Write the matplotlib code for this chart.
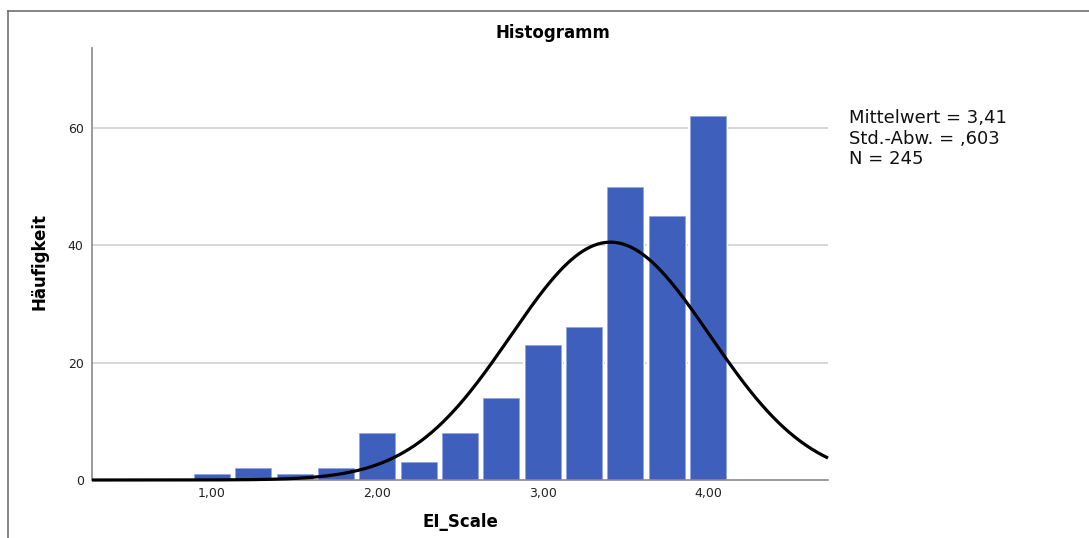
import numpy as np
import matplotlib
matplotlib.use("Agg")
import matplotlib.pyplot as plt
from matplotlib.lines import Line2D

# Data
bin_centers = [1.00, 1.25, 1.50, 1.75, 2.00, 2.25, 2.50, 2.75, 3.00, 3.25, 3.50, 3.75, 4.00]
counts = [1, 2, 1, 2, 8, 3, 8, 14, 23, 26, 50, 45, 62]
mean_val = 3.41
sd_val = 0.603
n_val = 245
bin_width = 0.25
x_ticks = [1.0, 2.0, 3.0, 4.0]
x_tick_labels = ["1,00", "2,00", "3,00", "4,00"]
y_ticks = [0, 20, 40, 60]
y_tick_labels = ["0", "20", "40", "60"]
stats_lines = ["Mittelwert = 3,41", "Std.-Abw. = ,603", "N = 245"]

W, H = 1089, 538
fig = plt.figure(figsize=(W / 100, H / 100), dpi=100)
fig.patch.set_facecolor("white")

ax = fig.add_axes([92 / W, 1 - 480 / H, (828 - 92) / W, (480 - 48) / H])
xlim = (0.274, 4.726)
ax.set_xlim(*xlim)
ax.set_ylim(0, 73.6)

# gridlines
for yt in y_ticks[1:]:
    ax.axhline(yt, color="#d3d3d3", lw=1.3, zorder=0)

# white halo behind bars hides the gridlines in the gaps
ax.bar(bin_centers, counts, width=bin_width * 0.97, color="white",
       edgecolor="none", zorder=1)
ax.bar(bin_centers, counts, width=0.218, color="#3f5fbd",
       edgecolor="#8fa3de", linewidth=0.5, zorder=2)

xs = np.linspace(xlim[0], xlim[1], 400)
ys = n_val * bin_width / (sd_val * np.sqrt(2 * np.pi)) * np.exp(-0.5 * ((xs - mean_val) / sd_val) ** 2)
ax.plot(xs, ys, color="black", lw=2.3, zorder=3, solid_capstyle="butt", clip_on=False)

for s in ["top", "right"]:
    ax.spines[s].set_visible(False)
for s in ["left", "bottom"]:
    ax.spines[s].set_color("#8a8a8a")
    ax.spines[s].set_linewidth(1.2)

ax.set_xticks(x_ticks)
ax.set_xticklabels(x_tick_labels, fontsize=9, color="#222222")
ax.set_yticks(y_ticks)
ax.set_yticklabels(y_tick_labels, fontsize=9, color="#222222")
ax.tick_params(axis="both", length=0)
ax.tick_params(axis="y", pad=6)
ax.tick_params(axis="x", pad=5)

fig.text(553 / W, 1 - 33 / H, "Histogramm", ha="center", va="center",
         fontsize=12, fontweight="bold")
fig.text(460 / W, 1 - 522 / H, "EI_Scale", ha="center", va="center",
         fontsize=12, fontweight="bold")
fig.text(40 / W, 1 - 262 / H, "Häufigkeit", ha="center", va="center",
         fontsize=12, fontweight="bold", rotation=90)

for i, line in enumerate(stats_lines):
    fig.text(849 / W, 1 - (118 + i * 20.5) / H, line, ha="left", va="center",
             fontsize=13, color="#111111")

# outer frame (left and top)
fig.add_artist(Line2D([8 / W, 8 / W], [0, 1 - 11 / H], transform=fig.transFigure,
                      color="#707070", lw=1.2))
fig.add_artist(Line2D([8 / W, 1], [1 - 11 / H, 1 - 11 / H], transform=fig.transFigure,
                      color="#707070", lw=1.2))

fig.savefig("out.png", dpi=100)
